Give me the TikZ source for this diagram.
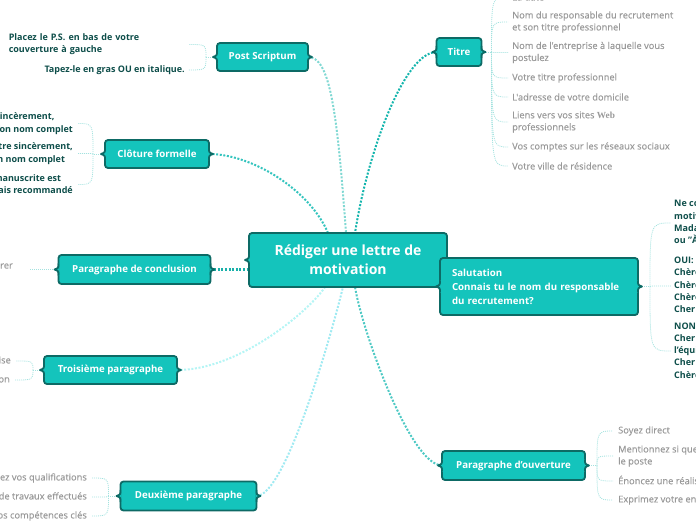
\documentclass[tikz,border=0pt]{standalone}
\usepackage{fontspec}
\setmainfont{Open Sans}
\newfontfamily\medf[FakeBold=0.35]{Open Sans}
\newfontfamily\serifw{Liberation Serif}
\usetikzlibrary{backgrounds}
\definecolor{tealf}{HTML}{14C4BC}
\definecolor{bord}{HTML}{0D6A65}
\definecolor{darkt}{HTML}{0E4E4A}
\definecolor{grayt}{HTML}{999999}
\definecolor{subl}{HTML}{A3E2DF}
\definecolor{cPS}{HTML}{80D8D3}
\definecolor{cTi}{HTML}{14B5AD}
\definecolor{cCl}{HTML}{34C4BE}
\definecolor{cCo}{HTML}{18B0A9}
\definecolor{cTr}{HTML}{B5F5F5}
\definecolor{cDe}{HTML}{A0EAF2}
\definecolor{cOu}{HTML}{4EC9C4}
\tikzset{
 box/.style={draw=bord, line width=1.8pt, fill=tealf, rounded corners=3pt, text=white,
   font=\fontsize{9.7}{14}\selectfont\bfseries, inner sep=0pt, outer sep=0pt, align=center},
 conn/.style={line width=2pt, dash pattern=on 2pt off 1.6pt},
 sub/.style={draw=subl, line width=0.8pt, dash pattern=on 1pt off 1pt},
 gl/.style={text=grayt, font=\medf\fontsize{9.3}{12}\selectfont, inner sep=0pt, align=left},
 dl/.style={text=darkt, font=\fontsize{9}{12.3}\selectfont\bfseries, inner sep=0pt, align=left},
}
\newcommand\notchL[1]{%
 \fill[tealf] ([yshift=6pt]#1.west) .. controls ([yshift=1.5pt]#1.west) .. ([xshift=-4pt]#1.west)
   .. controls ([yshift=-1.5pt]#1.west) .. ([yshift=-6pt]#1.west) -- ([xshift=1pt,yshift=-6pt]#1.west)
   -- ([xshift=1pt,yshift=6pt]#1.west) -- cycle;
 \draw[bord, line width=1.8pt, line join=round] ([yshift=6pt]#1.west) .. controls ([yshift=1.5pt]#1.west) .. ([xshift=-4pt]#1.west)
   .. controls ([yshift=-1.5pt]#1.west) .. ([yshift=-6pt]#1.west);}
\newcommand\notchR[1]{%
 \fill[tealf] ([yshift=6pt]#1.east) .. controls ([yshift=1.5pt]#1.east) .. ([xshift=4pt]#1.east)
   .. controls ([yshift=-1.5pt]#1.east) .. ([yshift=-6pt]#1.east) -- ([xshift=-1pt,yshift=-6pt]#1.east)
   -- ([xshift=-1pt,yshift=6pt]#1.east) -- cycle;
 \draw[bord, line width=1.8pt, line join=round] ([yshift=6pt]#1.east) .. controls ([yshift=1.5pt]#1.east) .. ([xshift=4pt]#1.east)
   .. controls ([yshift=-1.5pt]#1.east) .. ([yshift=-6pt]#1.east);}
\begin{document}
\begin{tikzpicture}[x=1pt,y=-1pt]
\useasboundingbox (0,0) rectangle (696,520);
% main boxes
\node[box, minimum width=198pt, minimum height=54pt, font=\fontsize{14}{19}\selectfont\bfseries] (main) at (348,260) {Rédiger une lettre de\\motivation};
\node[box, minimum width=198pt, minimum height=57pt, text width=174pt, align=left] (sal) at (539,286.5) {Salutation\\Connais tu le nom du responsable\\du recrutement?};
\node[box, minimum width=91pt, minimum height=28pt] (ps) at (262.5,57) {Post Scriptum};
\node[box, minimum width=45pt, minimum height=28pt] (titre) at (459,52) {Titre};
\node[box, minimum width=104pt, minimum height=28pt] (clot) at (157,154) {Clôture formelle};
\node[box, minimum width=152pt, minimum height=29pt] (concl) at (134.5,269.5) {Paragraphe de conclusion};
\node[box, minimum width=133pt, minimum height=28pt] (trois) at (110.5,370) {Troisième paragraphe};
\node[box, minimum width=136pt, minimum height=29pt] (deux) at (188.5,496) {Deuxième paragraphe};
\node[box, minimum width=143pt, minimum height=29pt] (ouv) at (513.5,465.5) {Paragraphe d'ouverture};
\notchL{main}
\notchL{sal}\notchR{sal}
\notchL{ps}\notchR{ps}
\notchL{titre}\notchR{titre}
\notchL{clot}\notchR{clot}
\notchL{concl}\notchR{concl}
\notchL{trois}\notchR{trois}
\notchL{deux}\notchR{deux}
\notchL{ouv}\notchR{ouv}
% labels
\node[dl, text width=177pt, anchor=east] (pc1) at (186,44.5) {Placez le P.S. en bas de votre\\couverture à gauche};
\node[dl, anchor=east] (pc2) at (185,70) {Tapez-le en gras OU en italique.};
\node[dl, anchor=east] (cc1) at (73,123.5) {Sincèrement,\\Ton nom complet};
\node[dl, anchor=east] (cc2) at (73,153.5) {Votre sincèrement,\\Ton nom complet};
\node[dl, anchor=east] (cc3) at (73,184.5) {La signature manuscrite est\\facultative, mais recommandé};
\node[gl, anchor=east] (co1) at (13,265) {Demandez à le rencontrer};
\node[gl, anchor=east] (tr1) at (11,361) {Montrez ce que vous savez de l'entreprise};
\node[gl, anchor=east] (tr2) at (10,380) {Expliquez votre motivation};
\node[gl, anchor=east] (de1) at (87,478) {Mentionnez vos qualifications};
\node[gl, anchor=east] (de2) at (87,497) {Donnez des exemples de travaux effectués};
\node[gl, anchor=east] (de3) at (87,516) {Mettez en avant vos compétences clés};
\node[gl, anchor=west] (t0) at (512,-3) {La date};
\node[gl, anchor=west] (t1) at (512,22) {Nom du responsable du recrutement\\et son titre professionnel};
\node[gl, anchor=west] (t2) at (512,52.5) {Nom de l'entreprise à laquelle vous\\postulez};
\node[gl, anchor=west] (t3) at (512,78) {Votre titre professionnel};
\node[gl, anchor=west] (t4) at (512,97) {L'adresse de votre domicile};
\node[gl, anchor=west] (t5) at (512,122) {Liens vers vos sites {\serifw\bfseries Web}\\professionnels};
\node[gl, anchor=west] (t6) at (512,147) {Vos comptes sur les réseaux sociaux};
\node[gl, anchor=west] (t7) at (512,166) {Votre ville de résidence};
\node[dl, anchor=west] (s1) at (674,223) {Ne commencez pas votre lettre de\\motivation par "Cher Monsieur/\\Madame"\\ou "À qui de droit"};
\node[dl, anchor=west] (s2) at (674,286) {OUI:\\Chère Madame Dupont,\\Chère Mme Dupont,\\Chère Mlle Dupont,\\Cher M. Dupont,};
\node[dl, anchor=west] (s3) at (674,351) {NON:\\Cher membre de\\l'équipe de recrutement,\\Cher Monsieur,\\Chère Madame,};
\node[gl, anchor=west] (o1) at (618,431) {Soyez direct};
\node[gl, anchor=west] (o2) at (618,456) {Mentionnez si quelqu'un vous a recommandé pour\\le poste};
\node[gl, anchor=west] (o3) at (618,481) {Énoncez une réalisation importante};
\node[gl, anchor=west] (o4) at (618,500) {Exprimez votre enthousiasme};
% branch points
\coordinate (psb) at ([xshift=-11pt]ps.west);
\coordinate (clb) at ([xshift=-12pt]clot.west);
\coordinate (trb) at ([xshift=-11pt]trois.west);
\coordinate (deb) at ([xshift=-12pt]deux.west);
\coordinate (tib) at ([xshift=10pt]titre.east);
\coordinate (sab) at ([xshift=12pt]sal.east);
\coordinate (oub) at ([xshift=12pt]ouv.east);
\begin{pgfonlayer}{background}
% main connectors
\draw[conn, cPS] (ps.east) .. controls (330,57) and (337,110) .. ([xshift=-2pt]main.north);
\draw[conn, cTi] (titre.west) .. controls (405,52) and (368,150) .. ([xshift=7pt]main.north);
\draw[conn, cCl] (clot.east) .. controls (252,154) and (310,190) .. ([xshift=-20pt]main.north);
\draw[conn, cCo, line width=2.6pt] (concl.east) -- (concl.east -| main.west);
\draw[conn, cTr] (trois.east) .. controls (240,370) and (310,310) .. ([xshift=-23pt]main.south);
\draw[conn, cDe] (deux.east) .. controls (285,496) and (330,340) .. ([xshift=-5pt]main.south);
\draw[conn, cOu] (ouv.west) .. controls (410,465) and (362,330) .. ([xshift=7pt]main.south);
% sub connectors
\draw[sub] (ps.west) -- (psb);
\foreach \n in {pc1,pc2} \draw[sub] (psb) .. controls (psb |- \n.east) .. ([xshift=3pt]\n.east);
\draw[sub] (clot.west) -- (clb);
\foreach \n in {cc1,cc2,cc3} \draw[sub] (clb) .. controls (clb |- \n.east) .. ([xshift=5pt]\n.east);
\draw[sub] (concl.west) -- ([xshift=16pt]concl.west -| co1.east);
\draw[sub] (trois.west) -- (trb);
\foreach \n in {tr1,tr2} \draw[sub] (trb) .. controls (trb |- \n.east) .. ([xshift=5pt]\n.east);
\draw[sub] (deux.west) -- (deb);
\foreach \n in {de1,de2,de3} \draw[sub] (deb) .. controls (deb |- \n.east) .. ([xshift=5pt]\n.east);
\draw[sub] (titre.east) -- (tib);
\foreach \n in {t0,t1,t2,t3,t4,t5,t6,t7} \draw[sub] (tib) .. controls (tib |- \n.west) .. ([xshift=-4pt]\n.west);
\draw[sub] (sal.east) -- (sab);
\foreach \n in {s1,s2,s3} \draw[sub] (sab) .. controls (sab |- \n.west) .. ([xshift=-3pt]\n.west);
\draw[sub] (ouv.east) -- (oub);
\foreach \n in {o1,o2,o3,o4} \draw[sub] (oub) .. controls (oub |- \n.west) .. ([xshift=-5pt]\n.west);
\end{pgfonlayer}
\end{tikzpicture}
\end{document}
